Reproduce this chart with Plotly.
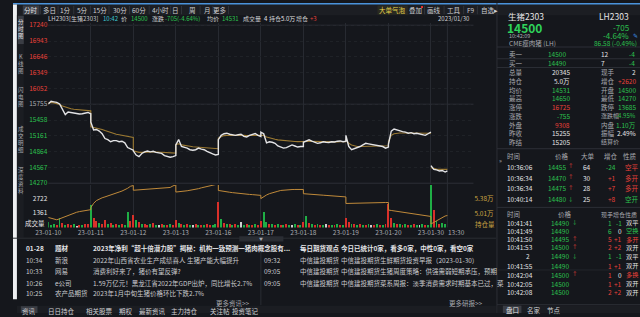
import plotly.graph_objects as go

W, H = 640, 317
FONT = "Noto Sans CJK SC, Noto Sans, sans-serif"

# ---------------- data ----------------
DAYS = ['23-01-10', '23-01-11', '23-01-12', '23-01-13', '23-01-16',
        '23-01-17', '23-01-18', '23-01-19', '23-01-20', '23-01-30']
SESSION_LEN = 225  # trading minutes per day
SAMPLE_MINUTES = [0, 15, 30, 45, 60, 75, 90, 105, 120, 135, 150, 165, 180, 195, 210, 225]
LAST_DAY_MINUTES = [0, 15, 30, 45, 60, 75, 87]
VOL_MINUTES = [0, 15, 30, 45, 60, 75, 90, 105, 120, 135, 150, 165, 180, 195, 210]
AFTERNOON_LABEL = '13:30'
AFTERNOON_MINUTE = 135

PRICE_D1 = [15760, 15810, 15800, 15790, 15760, 15660, 15560, 15610, 15600, 15590, 15580, 15570, 15575, 15590, 15600, 15575]
PRICE_D2 = [15420, 15270, 15280, 15250, 15200, 15110, 15090, 15050, 15070, 15070, 15050, 15060, 15030, 14940, 14920, 14890]
PRICE_D3 = [14880, 14800, 14770, 14830, 14860, 14875, 14860, 14870, 14850, 14840, 14830, 14790, 14770, 14760, 14770, 14790]
PRICE_D4 = [14990, 15090, 14960, 14950, 14930, 14900, 14890, 14900, 14930, 14910, 14900, 14870, 14840, 14820, 14800, 14810]
PRICE_D5 = [15090, 15170, 15200, 15210, 15190, 15180, 15170, 15180, 15190, 15150, 15140, 15170, 15190, 15205, 15170, 15150]
PRICE_D6 = [15230, 15200, 15030, 15050, 15040, 15020, 14970, 14950, 14930, 14940, 14960, 14990, 14970, 14950, 14960, 14960]
PRICE_D7 = [15040, 15070, 15085, 15060, 15040, 15020, 15030, 15050, 15040, 15035, 15050, 15045, 15060, 15065, 15050, 15060]
PRICE_D8 = [15170, 14960, 14900, 14920, 14930, 14960, 14990, 15020, 15010, 15000, 14990, 14980, 14975, 14960, 14930, 14950]
PRICE_D9 = [15000, 15250, 15290, 15270, 15250, 15240, 15230, 15210, 15220, 15200, 15210, 15200, 15190, 15170, 15200, 15230]
PRICE_D10 = [14600, 14530, 14520, 14500, 14510, 14480, 14500]

AVG_D1 = [15780, 15790, 15780, 15770, 15750, 15720, 15700, 15680, 15670, 15660, 15655, 15650, 15645, 15640, 15635, 15630]
AVG_D2 = [15330, 15320, 15310, 15300, 15280, 15260, 15240, 15220, 15200, 15190, 15180, 15170, 15160, 15150, 15140, 15130]
AVG_D3 = [14880, 14860, 14850, 14850, 14855, 14860, 14860, 14860, 14858, 14855, 14852, 14850, 14845, 14840, 14835, 14835]
AVG_D4 = [15000, 15010, 14990, 14985, 14975, 14965, 14955, 14950, 14948, 14945, 14940, 14935, 14930, 14925, 14920, 14918]
AVG_D5 = [15120, 15150, 15165, 15170, 15172, 15173, 15172, 15172, 15173, 15170, 15168, 15168, 15170, 15172, 15172, 15170]
AVG_D6 = [15180, 15170, 15140, 15120, 15105, 15095, 15085, 15078, 15072, 15066, 15062, 15058, 15055, 15052, 15050, 15048]
AVG_D7 = [15045, 15055, 15060, 15058, 15055, 15050, 15048, 15048, 15047, 15046, 15047, 15047, 15048, 15050, 15050, 15050]
AVG_D8 = [15100, 15020, 14990, 14970, 14960, 14960, 14962, 14968, 14972, 14975, 14977, 14978, 14978, 14977, 14975, 14974]
AVG_D9 = [15050, 15170, 15200, 15210, 15215, 15215, 15215, 15213, 15212, 15211, 15210, 15210, 15208, 15206, 15206, 15208]
AVG_D10 = [14560, 14545, 14535, 14530, 14530, 14531, 14531]

VOL_D1 = [500, 250, 300, 200, 860, 400, 250, 300, 200, 350, 180, 250, 200, 300, 350]
VOL_D2 = [2090, 900, 600, 400, 350, 700, 300, 450, 250, 300, 200, 300, 250, 1500, 600]
VOL_D3 = [1170, 700, 500, 300, 350, 250, 300, 400, 200, 250, 300, 250, 200, 300, 250]
VOL_D4 = [700, 400, 300, 250, 300, 200, 250, 300, 200, 250, 200, 300, 250, 200, 300]
VOL_D5 = [2430, 800, 400, 300, 350, 250, 300, 200, 560, 250, 300, 200, 250, 300, 200]
VOL_D6 = [600, 1500, 500, 350, 300, 250, 300, 200, 250, 300, 200, 250, 300, 200, 250]
VOL_D7 = [500, 1050, 400, 300, 250, 300, 200, 250, 300, 200, 250, 200, 300, 250, 200]
VOL_D8 = [860, 500, 350, 300, 250, 300, 200, 250, 300, 200, 250, 300, 200, 250, 300]
VOL_D9 = [2250, 900, 400, 300, 350, 250, 300, 200, 250, 300, 200, 250, 300, 200, 250]
VOL_D10 = [4400, 1630, 600, 300, 400, 300]
# r = up tick, g = down tick, w = flat
VOL_DIR = ['gggrgrgrrgwrgrr', 'grrgrrgrgrgrggr', 'rgrgrrgrgwrgrgr', 'rgrgrgwrgrgrrgg', 'rgrgrgrgwgrgrgr',
           'rggrgrgrgrgwgrg', 'rgrgrgrgwrgrgrg', 'rrgrgrgrgwrgrgr', 'rrgrgrgrgrgwgrg', 'grgrgg']

OI_D1 = [49040, 48800, 48600, 48450, 48700, 49000, 49300, 49600, 49900, 50150, 50350, 50520, 50650, 50800, 50910, 51000]
OI_D2 = [51500, 52600, 53300, 53700, 54000, 54220, 54500, 54800, 55000, 55200, 55450, 55700, 56000, 56400, 56900, 57100]
OI_D3 = [55900, 55950, 56000, 56050, 56100, 56100, 56150, 56200, 56250, 56300, 56350, 56400, 56440, 56600, 57000, 57250]
OI_D4 = [55450, 55500, 55600, 55700, 55770, 55900, 56000, 56150, 56300, 56510, 56650, 56800, 56950, 57080, 57300, 57500]
OI_D5 = [55850, 55700, 55600, 55500, 55400, 55300, 55200, 55100, 55030, 54950, 54900, 54850, 54800, 54750, 54700, 54610]
OI_D6 = [53800, 54300, 54700, 55030, 55300, 55500, 55650, 55850, 55950, 56000, 56050, 56080, 56100, 56100, 56100, 56100]
OI_D7 = [55030, 55000, 54900, 54850, 54800, 54750, 54700, 54650, 54600, 54550, 54500, 54450, 54400, 54300, 54250, 54220]
OI_D8 = [52570, 52600, 52620, 52650, 52680, 52700, 52720, 52740, 52760, 52780, 52790, 52800, 52800, 52810, 52810, 52810]
OI_D9 = [50910, 50800, 50700, 50600, 50500, 50400, 50300, 50200, 50100, 50000, 49900, 49750, 49600, 49450, 49350, 49290]
OI_D10 = [47390, 47800, 48300, 48700, 49100, 49400, 49530]

PRICE_TICKS = [17240, 16943, 16646, 16349, 16052, 15755, 15458, 15161, 14864, 14567, 14270]
PCT_TICKS = ['9.43%', '7.54%', '5.66%', '3.77%', '1.89%', '0.00%', '1.89%', '3.77%', '5.66%', '7.54%', '9.43%']
REF_PRICE = 15755
VOL_TICKS = [1361, 2722]
OI_TICKS = [50100, 53800]
OI_TICK_TEXT = ['5.01万', '5.38万']

# ---------------- colours ----------------
BG = '#15171c'
GRID = '#272a31'
RED = '#e8413a'
GREEN = '#2cc14f'
GREY = '#a8aab0'
WHITE = '#e4e4e6'
GOLD = '#9c7a32'
OI_COL = '#c08a3a'
YEL = '#c9a443'
DIR_COL = {'r': '#d9302a', 'g': '#1fae45', 'w': '#d0d0d0'}

PRICES = [PRICE_D1, PRICE_D2, PRICE_D3, PRICE_D4, PRICE_D5, PRICE_D6, PRICE_D7, PRICE_D8, PRICE_D9, PRICE_D10]
AVGS = [AVG_D1, AVG_D2, AVG_D3, AVG_D4, AVG_D5, AVG_D6, AVG_D7, AVG_D8, AVG_D9, AVG_D10]
VOLS = [VOL_D1, VOL_D2, VOL_D3, VOL_D4, VOL_D5, VOL_D6, VOL_D7, VOL_D8, VOL_D9, VOL_D10]
OIS = [OI_D1, OI_D2, OI_D3, OI_D4, OI_D5, OI_D6, OI_D7, OI_D8, OI_D9, OI_D10]


def minutes_for(i, n):
    return SAMPLE_MINUTES[:n] if i < len(DAYS) - 1 else LAST_DAY_MINUTES[:n]


def build_line(series_list):
    xs, ys = [], []
    for i, vals in enumerate(series_list):
        if i == len(series_list) - 1:
            xs.append(None)
            ys.append(None)
        mins = minutes_for(i, len(vals))
        xs += [i * SESSION_LEN + m for m in mins]
        ys += vals
    return xs, ys


fig = go.Figure()

px_, py_ = build_line(PRICES)
ax_, ay_ = build_line(AVGS)

fig.add_trace(go.Scatter(x=ax_, y=ay_, mode='lines', line=dict(color=GOLD, width=1.1),
                         xaxis='x', yaxis='y', hoverinfo='skip', connectgaps=False))
fig.add_trace(go.Scatter(x=px_, y=py_, mode='lines', line=dict(color=WHITE, width=1.4),
                         xaxis='x', yaxis='y', hoverinfo='skip', connectgaps=False))

vx, vy, vc = [], [], []
for i, vals in enumerate(VOLS):
    for k, v in enumerate(vals):
        vx.append(i * SESSION_LEN + VOL_MINUTES[k] + 1)
        vy.append(v)
        vc.append(DIR_COL[VOL_DIR[i][k]])
fig.add_trace(go.Bar(x=vx, y=vy, marker=dict(color=vc, line=dict(width=0)), width=5,
                     xaxis='x2', yaxis='y2', hoverinfo='skip'))

# open interest (continuous across days)
oxs, oys = [], []
for i, vals in enumerate(OIS):
    mins = minutes_for(i, len(vals))
    oxs += [i * SESSION_LEN + m for m in mins]
    oys += vals
fig.add_trace(go.Scatter(x=oxs, y=oys, mode='lines', line=dict(color=OI_COL, width=1),
                         xaxis='x2', yaxis='y4', hoverinfo='skip'))

# ---------------- axes ----------------
X0, X1 = 36, 470
MAIN_TOP, MAIN_BOT = 20, 185
VOL_TOP, VOL_BOT = 186, 229.5
TOTAL = SESSION_LEN * len(DAYS)
day_bounds = [i * SESSION_LEN for i in range(len(DAYS))]


def pct_color(i):
    n = len(PRICE_TICKS) // 2
    return RED if i < n else (GREY if i == n else GREEN)


price_text = [f"<span style='color:{pct_color(i)}'>{v}</span>" for i, v in enumerate(PRICE_TICKS)]
pct_text = [f"<span style='color:{pct_color(i)}'>{t}</span>" for i, t in enumerate(PCT_TICKS)]

main_range = [14257, 17290]
fig.update_layout(
    xaxis=dict(domain=[X0 / W, X1 / W], range=[0, TOTAL], anchor='y', tickvals=day_bounds[1:],
               showticklabels=False, showgrid=True, gridcolor=GRID, gridwidth=1, zeroline=False,
               showline=False, ticks=''),
    xaxis2=dict(domain=[X0 / W, X1 / W], range=[0, TOTAL], anchor='y2', matches='x',
                tickvals=day_bounds, ticktext=DAYS, showgrid=True, gridcolor=GRID,
                zeroline=False, showline=False, ticks='',
                tickfont=dict(size=6.5, color=GREY, family=FONT)),
    yaxis=dict(domain=[1 - MAIN_BOT / H, 1 - MAIN_TOP / H], range=main_range, anchor='x',
               tickvals=PRICE_TICKS, ticktext=price_text, showgrid=True, gridcolor='#1f2227',
               griddash='dot', zeroline=False, ticks='', tickfont=dict(size=6.5, family=FONT)),
    yaxis3=dict(overlaying='y', side='right', anchor='x', range=main_range, tickvals=PRICE_TICKS,
                ticktext=pct_text, showgrid=False, zeroline=False, ticks='',
                tickfont=dict(size=6.5, family=FONT)),
    yaxis2=dict(domain=[1 - VOL_BOT / H, 1 - VOL_TOP / H], range=[0, 4030], anchor='x2',
                tickvals=VOL_TICKS, ticktext=[str(v) for v in VOL_TICKS], showgrid=False,
                zeroline=False, ticks='', tickfont=dict(size=6.5, color=WHITE, family=FONT)),
    yaxis4=dict(overlaying='y2', side='right', anchor='x2', range=[46523, 57253],
                tickvals=OI_TICKS, ticktext=OI_TICK_TEXT, showgrid=False, zeroline=False,
                ticks='', tickfont=dict(size=6.5, color=YEL, family=FONT)),
)

# ---------------- decorations ----------------
SH = []
ANN = []


def R(x0, y0, x1, y1, fill, line=None):
    SH.append(dict(type='rect', xref='paper', yref='paper', x0=x0 / W, x1=x1 / W,
                   y0=1 - y1 / H, y1=1 - y0 / H, fillcolor=fill,
                   line=dict(width=0) if line is None else dict(color=line, width=1), layer='below'))


def L(x0, y0, x1, y1, color=GRID, width=1, layer='below'):
    SH.append(dict(type='line', xref='paper', yref='paper', x0=x0 / W, x1=x1 / W,
                   y0=1 - y0 / H, y1=1 - y1 / H, line=dict(color=color, width=width), layer=layer))


def T(text, x, y, color=GREY, size=6.5, anchor='left', bold=False):
    if bold:
        text = f"<b>{text}</b>"
    ANN.append(dict(text=text, x=x / W, y=1 - y / H, xref='paper', yref='paper', xanchor=anchor,
                    yanchor='middle', showarrow=False, borderpad=0,
                    font=dict(size=size, color=color, family=FONT)))


# main pane solid lines (top / reference / bottom price levels)
for v in (PRICE_TICKS[0], REF_PRICE, PRICE_TICKS[-1]):
    SH.append(dict(type='line', xref='paper', yref='y', x0=X0 / W, x1=X1 / W, y0=v, y1=v,
                   line=dict(color='#2c2f36', width=1), layer='below'))
# current-time marker
last_x = (len(DAYS) - 1) * SESSION_LEN + LAST_DAY_MINUTES[-1]
SH.append(dict(type='line', xref='x', yref='paper', x0=last_x, x1=last_x, y0=1 - VOL_BOT / H,
               y1=1 - MAIN_TOP / H, line=dict(color='#2a2d34', width=1), layer='below'))
T(AFTERNOON_LABEL, 0, 0)
ANN[-1].update(x=(len(DAYS) - 1) * SESSION_LEN + AFTERNOON_MINUTE, xref='x2', y=1 - 234 / H,
               xanchor='center')

# top bar
R(0, 0, 640, 12.5, '#1c1e23')
R(0, 0, 640, 1.6, '#4a93dc')
R(0, 1.6, 4, 303, '#eef0f2')
R(4, 12.5, 11, 240, '#1b1d22')
R(5, 13, 11, 42, '#3a3d44')
R(10, 2.5, 27, 12, '#3a3d44')
tabs = [('分时', 18.5), ('多日', 37), ('1分', 54), ('5分', 71), ('15分', 89), ('30分', 109),
        ('60分', 129), ('4小时', 150.5), ('日', 166), ('周', 183.5), ('月', 198.5), ('更多', 211)]
seps = [28, 46, 62, 79, 98, 119, 139, 161, 172, 191, 204, 220]
for s in seps:
    L(s, 3, s, 11.5, '#30333a')
for t, x in tabs:
    T(t, x, 7.3, '#cfd0d3' if t != '分时' else WHITE, 6.5, 'center')
R(372, 2.5, 403, 12, '#2a2a22')
T('大单气泡', 387.5, 7.3, '#e6d34a', 6.5, 'center')
T('叠加', 411, 7.3, '#cfd0d3', 6.5, 'center')
R(416.5, 3, 418.5, 5, '#e83030')
T('画线', 430, 7.3, '#cfd0d3', 6.5, 'center')
T('工具', 450, 7.3, '#cfd0d3', 6.5, 'center')
T('F9', 467, 7.3, '#cfd0d3', 6.5, 'center')
T('自选▸', 486, 7.3, '#cfd0d3', 6.5, 'center')
for s in (420, 440, 460, 474):
    L(s, 3, s, 11.5, '#30333a')

# sidebar vertical words
T('分<br>时<br>图', 8, 27, WHITE, 5.5, 'center')
T('K<br>线<br>图', 8, 62, GREY, 5.5, 'center')
T('闪<br>电<br>图', 8, 96, GREY, 5.5, 'center')
T('成<br>交<br>明<br>细', 8, 140, GREY, 5.5, 'center')
T('深<br>度<br>资<br>料', 8, 182, GREY, 5.5, 'center')

# info row
IS = 6
T('LH2303[生猪2303]', 35, 15.5, '#cfd0d3', IS)
T('10:42', 90.5, 15.5, '#3fc7d3', IS)
T('价', 109.5, 15.5, '#cfd0d3', IS)
T('14500', 119, 15.5, GREEN, IS)
T('涨跌', 141, 15.5, '#cfd0d3', IS)
T('-705(-4.64%)', 154, 15.5, GREEN, IS)
T('均价', 197, 15.5, '#cfd0d3', IS)
T('14531', 212, 15.5, GREEN, IS)
T('成交量', 234, 15.5, '#cfd0d3', IS)
T('4', 255.5, 15.5, WHITE, IS)
T('持仓', 260.5, 15.5, '#cfd0d3', IS)
T('5.0万', 272.5, 15.5, WHITE, IS)
T('增仓', 287.5, 15.5, '#cfd0d3', IS)
T('+3', 302.5, 15.5, RED, IS)
T('2023/01/30', 468, 15.5, '#cfd0d3', IS, 'right')

T('成交量', 34, 224.5, WHITE, 6.5, 'right')
T('持仓量', 471, 226.5, YEL, 6.5, 'left')

# news section
L(0, 240.5, 493, 240.5, '#2a2d33')
R(231, 238.5, 276, 244, '#2a2d33')
T('▼', 253.5, 241.5, GREY, 4, 'center')
L(253, 245, 253, 309, '#2a2d33')
NEWS_Y = [251, 263, 274.5, 286, 297]
news_left = [('01-28', '题材', '2023年净利“超十倍潜力股”揭秘：机构一致预测一猪肉概念股有...'),
             ('10:34', '新浪', '2022年山西省农业生产成绩喜人 生猪产能大幅提升'),
             ('10:33', '网易', '消费利好来了，猪价有望反弹?'),
             ('10:26', 'e公司', '1.59万亿元！黑龙江省2022年GDP出炉，同比增长2.7%'),
             ('10:25', '农产品期货', '2023年1月中旬生猪价格环比下跌2.7%')]
for i, (t, src, title) in enumerate(news_left):
    col = WHITE if i == 0 else '#c9cacd'
    T(t, 12, NEWS_Y[i], col, 6.5, bold=(i == 0))
    T(src, 42, NEWS_Y[i], col, 6.5, bold=(i == 0))
    T(title, 81, NEWS_Y[i], col, 6.5, bold=(i == 0))
news_right = [('', '每日期货观点', '今日已统计0家，看多0家，中性0家，看空0家'),
              ('09:32', '中信建投期货', '中信建投期货生鲜期货投资早报（2023-01-30）'),
              ('09:05', '中信建投期货', '中信建投期货生猪周度策略：供强需弱短期承压，预期'),
              ('09:05', '中信建投期货', '中信建投期货菜系周报：淡季消费需求时期基本已过，菜')]
for i, (t, src, title) in enumerate(news_right):
    col = WHITE if i == 0 else '#c9cacd'
    if t:
        T(t, 255, NEWS_Y[i], col, 6.5)
    T(src, 292, NEWS_Y[i], col, 6.5, bold=(i == 0))
    T(title, 334, NEWS_Y[i], col, 6.5, bold=(i == 0))
T('更多资讯>>', 243, 306.5, GREY, 6.5, 'right')
T('更多研报>>', 481, 306.5, GREY, 6.5, 'right')

# bottom tabs
R(4, 309.5, 493, 317, '#1b1d22')
R(8, 310, 25, 317, '#3a3d44')
btabs = [('资讯', 16.5), ('日日持仓', 49), ('相关股票', 88), ('期权', 115), ('最新资讯', 142),
         ('主力持仓', 175), ('关注帖', 211), ('投资笔记', 237)]
for t, x in btabs:
    T(t, x, 314.5, '#cfd0d3', 6.5, 'center')

# ---------------- right panel ----------------
PX = 494
L(PX, 0, PX, 317, '#2c2f36', 1)
T('生猪2303', 504, 12.8, WHITE, 8.5)
T('LH2303', 630, 12.8, WHITE, 8.5, 'right')
T('14500', 503, 25.5, '#2fd25a', 12, bold=True)
T('-705', 630, 25.5, GREEN, 8, 'right')
T('10:42:09', 505, 34.2, GREY, 5.5)
T('-4.64%', 630, 33.5, GREEN, 8, 'right')
T('✎', 635, 33, '#3f8ee0', 6, 'center')
T('CME瘦肉猪 (LH)', 505, 40.5, GREY, 6.5)
T('86.58 (-0.49%)', 638, 40.5, GREEN, 6.5, 'right')
L(PX, 45, 640, 45, '#2c2f36')
L(PX, 57, 640, 57, '#2c2f36')
L(PX, 66, 640, 66, '#2c2f36')

T('卖一', 505, 52, GREY)
T('14500', 565, 52, GREEN, 6.5, 'right')
T('12', 599, 52, WHITE)
T('-4', 636, 52, GREEN, 6.5, 'right')
T('买一', 505, 61.5, GREY)
T('14490', 565, 61.5, GREEN, 6.5, 'right')
T('7', 599, 61.5, WHITE)
T('-4', 636, 61.5, GREEN, 6.5, 'right')

quote_rows = [
    ('总量', '20345', WHITE, '现手', '2', WHITE),
    ('持仓', '5.0万', WHITE, '增仓', '+2620', RED),
    ('均价', '14531', GREEN, '开盘', '14500', GREEN),
    ('最高', '14650', GREEN, '最低', '14270', GREEN),
    ('涨停', '16725', RED, '跌停', '13685', GREEN),
    ('涨跌', '-755', GREEN, '涨跌幅', '-4.95%', GREEN),
    ('外盘', '9308', RED, '内盘', '1.10万', GREEN),
    ('昨收', '15255', WHITE, '振幅', '2.49%', WHITE),
    ('昨结', '15205', WHITE, '结算价', '', WHITE),
]
QY = [70.7, 79.5, 88.7, 97.5, 106.5, 115.5, 124.5, 133.3, 142]
for (l1, v1, c1, l2, v2, c2), y in zip(quote_rows, QY):
    T(l1, 505, y, GREY)
    T(v1, 570, y, c1, 6.5, 'right')
    T(l2, 599, y, GREY, 6 if len(l2) > 2 else 6.5)
    if v2:
        T(v2, 637, y, c2, 6 if len(v2) > 5 else 6.5, 'right')

L(PX, 149, 640, 149, '#2c2f36')
T('»', 498, 161, GREY, 6, 'center')
T('时间', 503, 156.5, GREY)
T('价格', 560, 156.5, GREY, 6.5, 'center')
T('大单', 587, 156.5, GREY, 6.5, 'center')
T('增仓', 610, 156.5, GREY, 6.5, 'center')
T('性质', 630, 156.5, GREY, 6.5, 'center')
big_trades = [('10:36:06', '14455', '↑', RED, '64', '-24', GREEN, '空平', RED),
              ('10:36:34', '14470', '↑', RED, '30', '+1', RED, '多开', RED),
              ('10:36:34', '14475', '↑', RED, '28', '+7', RED, '多开', RED),
              ('10:40:14', '14480', '↓', GREEN, '25', '+8', RED, '空开', GREEN)]
BY = [167.5, 178.7, 189.5, 200.5]
for (t, p, a, ac, q, d, dc, nat, nc), y in zip(big_trades, BY):
    T(t, 503, y, WHITE)
    T(p, 565, y, GREEN, 6.5, 'right')
    T(a, 565.5, y - 0.5, ac, 5.5)
    T(q, 586, y, WHITE, 6.5, 'center')
    T(d, 617, y, dc, 6.5, 'right')
    T(nat, 623.5, y, nc)
L(PX, 209, 640, 209, '#2c2f36')

T('时间', 503, 216, GREY)
T('价格', 563, 216, GREY, 6.5, 'center')
T('现手', 606, 216, GREY, 6, 'center')
T('增仓', 618.5, 216, GREY, 6, 'center')
T('性质', 631, 216, GREY, 6, 'center')
ticks_rows = [('10:41:41', '14490', '↓', GREEN, '1', GREEN, '-1', GREEN, '双平', WHITE),
              ('10:41:49', '14490', '', GREEN, '6', GREEN, '0', WHITE, '空换', GREEN),
              ('10:41:50', '14495', '↑', RED, '5', RED, '+1', RED, '多开', RED),
              ('10:41:53', '14500', '↑', RED, '2', RED, '+2', RED, '双开', WHITE),
              ('2', '14490', '↓', GREEN, '1', GREEN, '-1', GREEN, '双平', WHITE),
              ('10:41:55', '14490', '', GREEN, '1', RED, '+1', RED, '双开', WHITE),
              ('10:42:04', '14500', '↑', RED, '1', RED, '0', WHITE, '多换', RED),
              ('10:42:05', '14500', '', GREEN, '1', RED, '+1', RED, '双开', WHITE),
              ('10:42:08', '14500', '', GREEN, '2', RED, '+2', RED, '双开', WHITE)]
TY = [224.5, 233, 241.5, 250, 259, 268.5, 278, 287, 296]
for (t, p, a, ac, q, qc, d, dc, nat, nc), y in zip(ticks_rows, TY):
    if len(t) > 2:
        T(t, 503, y, WHITE)
    else:
        T(t, 529, y, WHITE, 6.5, 'right')
    T(p, 569, y, GREEN, 6.5, 'right')
    if a:
        T(a, 569.5, y - 0.5, ac, 5.5)
    T(q, 612, y, qc, 6.5, 'right')
    T(d, 623, y, dc, 6.5, 'right')
    T(nat, 624.5, y, nc, 6.2)
L(PX, 273, 640, 273, '#23262c')
L(PX, 308.5, 640, 308.5, '#2c2f36')
R(PX + 1, 309, 640, 317, '#1b1d22')
R(500, 309.5, 519, 317, '#3a3d44')
T('盘口', 509.5, 314, WHITE, 6.5, 'center')
T('名家', 532, 314, '#cfd0d3', 6.5, 'center')
T('节点', 552, 314, '#cfd0d3', 6.5, 'center')

fig.update_layout(
    width=W, height=H, margin=dict(l=0, r=0, t=0, b=0),
    paper_bgcolor=BG, plot_bgcolor=BG, showlegend=False, bargap=0,
    font=dict(family=FONT, size=6.5, color=GREY),
    shapes=SH, annotations=ANN,
)

fig.write_html(
    "out.html",
    config={'displayModeBar': False},
    post_script="document.body.style.margin='0';document.body.style.padding='0';"
                "document.body.style.overflow='hidden';document.body.style.background='#15171c';",
)
